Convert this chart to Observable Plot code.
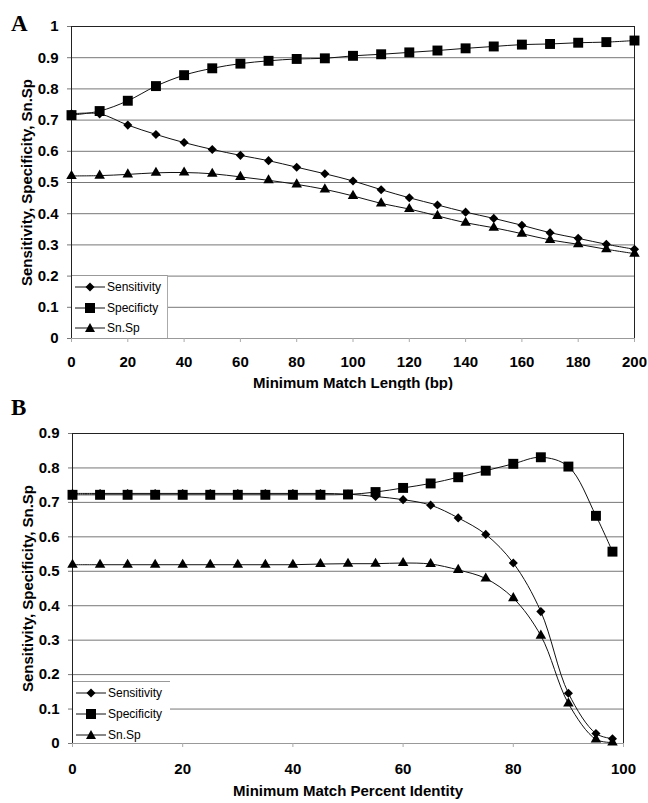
<!DOCTYPE html>
<html><head><meta charset="utf-8">
<script src="https://cdn.jsdelivr.net/npm/d3@7"></script>
<script src="https://cdn.jsdelivr.net/npm/@observablehq/plot@0.6"></script>
<style>
body{margin:0;background:#fff;font-family:"Liberation Sans",Arial,sans-serif}
#wrap{position:relative;width:648px;height:803px;overflow:hidden}
.panel{position:absolute;left:0}
.letter{position:absolute;font-family:"Liberation Serif","Times New Roman",serif;font-weight:bold;font-size:23px;line-height:1}
.legend{position:absolute;background:#fff;font-size:12px;color:#000}
.legend .row{position:absolute;left:0;height:16px;white-space:nowrap}
.legend .row svg{position:absolute;left:0;top:0}
.legend .row span{position:absolute;top:0;line-height:16px}
</style></head><body>
<div id="wrap"></div>
<script>
// ---- Panel A data ----
const lengthBp = [0,10,20,30,40,50,60,70,80,90,100,110,120,130,140,150,160,170,180,190,200];
const sensA = [0.720,0.720,0.684,0.654,0.628,0.606,0.587,0.570,0.549,0.528,0.505,0.477,0.451,0.428,0.405,0.385,0.363,0.339,0.321,0.302,0.286];
const specA = [0.716,0.729,0.762,0.809,0.844,0.866,0.881,0.890,0.896,0.898,0.906,0.911,0.917,0.923,0.930,0.936,0.942,0.944,0.948,0.950,0.955];
const snspA = [0.521,0.522,0.526,0.531,0.532,0.528,0.518,0.507,0.494,0.478,0.457,0.433,0.415,0.393,0.371,0.355,0.336,0.316,0.302,0.286,0.272];
const xTicksA = [0,20,40,60,80,100,120,140,160,180,200];
const yTicksA = [0,0.1,0.2,0.3,0.4,0.5,0.6,0.7,0.8,0.9,1];
const legendA = ["Sensitivity","Specificty","Sn.Sp"];

// ---- Panel B data ----
const identity = [0,5,10,15,20,25,30,35,40,45,50,55,60,65,70,75,80,85,90,95,98];
const sensB = [0.726,0.726,0.726,0.726,0.726,0.726,0.726,0.726,0.726,0.726,0.724,0.717,0.708,0.692,0.655,0.607,0.524,0.383,0.146,0.029,0.014];
const specB = [0.722,0.722,0.722,0.722,0.722,0.722,0.722,0.722,0.722,0.722,0.723,0.730,0.742,0.755,0.773,0.792,0.812,0.831,0.804,0.661,0.557];
const snspB = [0.519,0.519,0.519,0.519,0.519,0.519,0.519,0.519,0.519,0.521,0.522,0.522,0.524,0.521,0.504,0.479,0.422,0.313,0.116,0.012,0.003];
const xTicksB = [0,20,40,60,80,100];
const yTicksB = [0,0.1,0.2,0.3,0.4,0.5,0.6,0.7,0.8,0.9];
const legendB = ["Sensitivity","Specificity","Sn.Sp"];

const yTitle = "Sensitivity, Specificity, Sn.Sp";
const symbols = ["diamond2","square","triangle"];
const radii = [4.1, 5.6, 3.9];

function panel(o) {
  const seriesList = [o.sens, o.spec, o.snsp];
  const marks = [
    Plot.ruleY(o.yTicks.filter(v => v > 0 && v < o.yDomain[1]), {stroke: "#777", strokeWidth: 1}),
    Plot.ruleY([0], {stroke: "#999"}),
    Plot.ruleY([o.yDomain[1]], {stroke: "#222"}),
    Plot.ruleX([o.xDomain[0]], {stroke: "#222"}),
    Plot.ruleX([o.xDomain[1]], {stroke: "#222"}),
    Plot.axisX({ticks: o.xTicks, tickSize: 4, tickPadding: o.xPad, stroke: "#aaa", fill: "#000",
      tickFormat: d => String(d), label: o.xLabel, labelAnchor: "center", labelOffset: o.xLabelOffset, labelArrow: "none"}),
    Plot.axisY({ticks: o.yTicks, tickSize: 4, tickPadding: 9, stroke: "#777", fill: "#000",
      tickFormat: d => String(+(+d).toFixed(1)), label: yTitle, labelAnchor: "center", labelOffset: 50, labelArrow: "none"})
  ];
  [2, 0, 1].forEach(i => {
    const rows = o.xs.map((x, k) => ({x, y: seriesList[i][k]}));
    marks.push(Plot.line(rows, {x: "x", y: "y", curve: "catmull-rom", stroke: "#111", strokeWidth: 1}));
  });
  [2, 0, 1].forEach(i => {
    const rows = o.xs.map((x, k) => ({x, y: seriesList[i][k]}));
    marks.push(Plot.dot(rows, {x: "x", y: "y", symbol: symbols[i], r: radii[i], fill: "#000", stroke: "none"}));
  });
  return Plot.plot({
    width: 648, height: o.height,
    marginTop: o.marginTop, marginBottom: o.marginBottom, marginLeft: o.marginLeft, marginRight: o.marginRight,
    style: {fontFamily: "'Liberation Sans', Arial, sans-serif", fontSize: "15px", fontWeight: "bold", color: "#000", background: "#fff", overflow: "visible"},
    x: {domain: o.xDomain},
    y: {domain: o.yDomain},
    marks
  });
}

function legend(names, left, top, width, height, rowTops, rightBorder) {
  const div = document.createElement("div");
  div.className = "legend";
  div.style.left = left + "px"; div.style.top = top + "px";
  div.style.width = width + "px"; div.style.height = height + "px";
  div.style.borderTop = "1px solid #999";
  if (rightBorder) div.style.borderRight = "1px solid #aaa";
  const shapes = [
    '<path d="M18,3.5L22.5,8L18,12.5L13.5,8Z" fill="#000"/>',
    '<rect x="13" y="3" width="10" height="10" fill="#000"/>',
    '<path d="M18,3L23,12L13,12Z" fill="#000"/>'
  ];
  names.forEach((name, i) => {
    const row = document.createElement("div");
    row.className = "row";
    row.style.top = rowTops[i] + "px";
    row.innerHTML = `<svg width="34" height="16"><line x1="3" y1="8" x2="33" y2="8" stroke="#111" stroke-width="1"/>${shapes[i]}</svg><span style="left:35px">${name}</span>`;
    div.appendChild(row);
  });
  return div;
}

const wrap = document.getElementById("wrap");

const a = panel({xs: lengthBp, sens: sensA, spec: specA, snsp: snspA, xTicks: xTicksA, yTicks: yTicksA,
  xDomain: [0, 200], yDomain: [0, 1], xLabel: "Minimum Match Length (bp)", xLabelOffset: 49, xPad: 14,
  height: 390, marginTop: 26, marginBottom: 52, marginLeft: 71, marginRight: 14});
a.classList.add("panel"); a.style.top = "0px";
wrap.appendChild(a);

const b = panel({xs: identity, sens: sensB, spec: specB, snsp: snspB, xTicks: xTicksB, yTicks: yTicksB,
  xDomain: [0, 100], yDomain: [0, 0.9], xLabel: "Minimum Match Percent Identity", xLabelOffset: 52, xPad: 16,
  height: 413, marginTop: 43, marginBottom: 60, marginLeft: 72, marginRight: 25});
b.classList.add("panel"); b.style.top = "390px";
wrap.appendChild(b);

wrap.appendChild(legend(legendA, 72, 275, 95, 62, [3, 24, 44], true));
wrap.appendChild(legend(legendB, 73, 681, 97, 61, [3, 24, 45], false));

const la = document.createElement("div"); la.className = "letter"; la.textContent = "A";
la.style.left = "11px"; la.style.top = "12px"; wrap.appendChild(la);
const lb = document.createElement("div"); lb.className = "letter"; lb.textContent = "B";
lb.style.left = "11px"; lb.style.top = "396px"; wrap.appendChild(lb);
</script>
</body></html>
